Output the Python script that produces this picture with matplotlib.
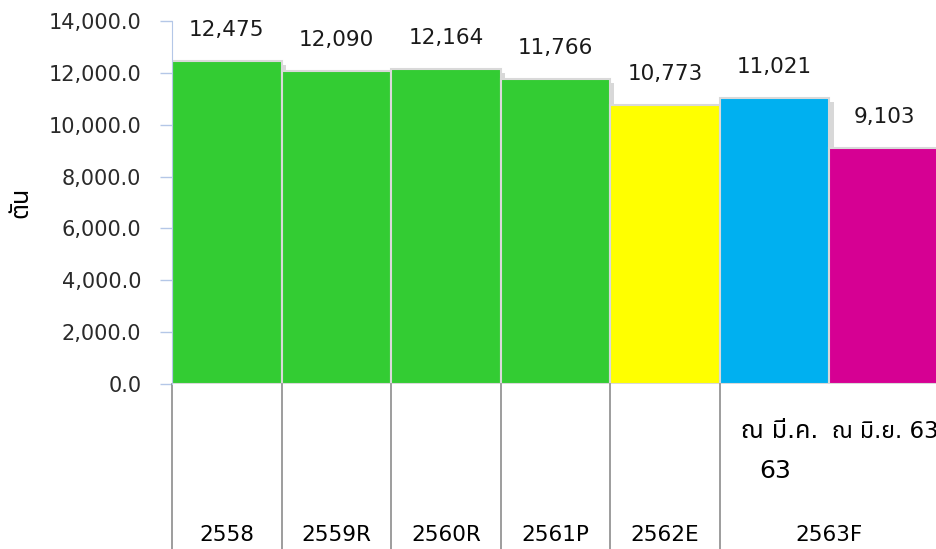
import matplotlib
matplotlib.use('Agg')
import matplotlib.pyplot as plt
import matplotlib.patheffects as pe
from matplotlib import transforms

years = ['2558', '2559R', '2560R', '2561P', '2562E', '2563F']
values = [12475, 12090, 12164, 11766, 10773, 11021, 9103]
colors = ['#33cc33', '#33cc33', '#33cc33', '#33cc33', '#ffff00', '#00b0f0', '#d60093']
yticks = [0, 2000, 4000, 6000, 8000, 10000, 12000, 14000]

thai = ['DejaVu Sans', 'Noto Sans', 'Noto Sans Thai', 'Tlwg Typo', 'Loma', 'Garuda', 'Norasi']
plt.rcParams['font.family'] = ['DejaVu Sans']

fig = plt.figure(figsize=(9.37, 5.49), dpi=100)
# axes from x=172 to 939 px, y=21 to 384 px
ax = fig.add_axes([172 / 937, 165 / 549, 767 / 937, 363 / 549])

x = list(range(len(values)))
bars = ax.bar(x, values, width=1.0, color=colors, edgecolor='#d9d9d9', linewidth=1.5)
for b in bars:
    b.set_path_effects([pe.SimplePatchShadow(offset=(3, -3), shadow_rgbFace='#aaaaaa', alpha=0.45), pe.Normal()])

for xi, v in zip(x, values):
    ax.annotate(f'{v:,}', (xi, v), xytext=(0, 15), textcoords='offset points',
                ha='center', va='bottom', fontsize=15.5, color='#1a1a1a')

ax.set_xlim(-0.5, 6.5)
ax.set_ylim(0, 14000)
ax.set_yticks(yticks)
ax.set_yticklabels([f'{t:,.1f}' for t in yticks], fontsize=15, color='#2a2a2a')
ax.tick_params(axis='y', length=9, width=1, color='#b4c7e7', pad=13)
ax.set_xticks([])
for s in ['top', 'right', 'bottom']:
    ax.spines[s].set_visible(False)
ax.spines['left'].set_color('#b4c7e7')

ax.set_ylabel('ตัน', family=thai, fontsize=18, fontweight='bold', labelpad=12)

# category table below the plot
trans = transforms.blended_transform_factory(ax.transData, ax.transAxes)
bottom = -165 / 363
for bx in [-0.5, 0.5, 1.5, 2.5, 3.5, 4.5]:
    ax.plot([bx, bx], [0, bottom], transform=trans, color='#8c8c8c', lw=1.2, clip_on=False)

cat_x = [0, 1, 2, 3, 4, 5.5]
for xi, lab in zip(cat_x, years):
    ax.text(xi, -151 / 363, lab, transform=trans, ha='center', va='center', fontsize=15.5)

ax.text(4.69, -47 / 363, 'ณ มี.ค.', family=thai, transform=trans, ha='left', va='center', fontsize=18)
ax.text(4.86, -87 / 363, '63', family=thai, transform=trans, ha='left', va='center', fontsize=18)
ax.text(5.52, -47 / 363, 'ณ มิ.ย. 63', family=thai, transform=trans, ha='left', va='center', fontsize=16.5)

fig.savefig('out.png', dpi=100)
